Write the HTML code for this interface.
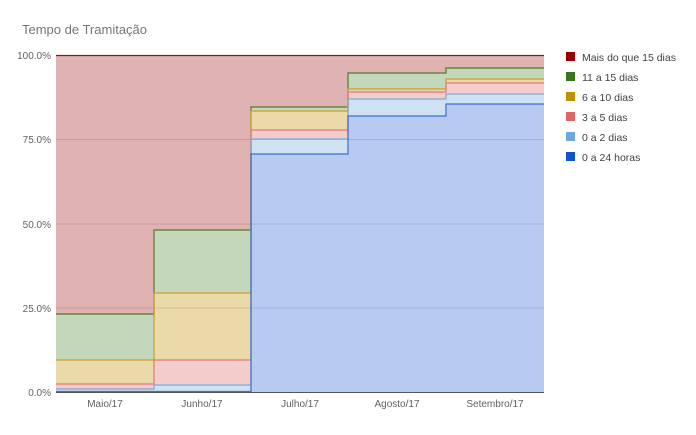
<!DOCTYPE html>
<html><head><meta charset="utf-8"><style>
body{margin:0;background:#fff;width:696px;height:430px;overflow:hidden;font-family:"Liberation Sans",Arial,sans-serif}
</style></head><body>
<svg width="696" height="430" xmlns="http://www.w3.org/2000/svg" font-family="Liberation Sans, Arial, sans-serif">
<text x="22" y="34" font-size="13" fill="#757575">Tempo de Tramitação</text>
<g font-size="10" fill="#616161" text-anchor="end">
<text x="51" y="59">100.0%</text><text x="51" y="143">75.0%</text><text x="51" y="228">50.0%</text><text x="51" y="312">25.0%</text><text x="51" y="396">0.0%</text>
</g>
<!-- red background -->
<rect x="56" y="55" width="488" height="337" fill="#e0b2b2"/>
<!-- columns: x, w, blue, lb, pink, yellow, green -->
<g id="c1">
<rect x="56" y="314" width="98" height="78" fill="#c5d7ba"/>
<rect x="56" y="360" width="98" height="32" fill="#ead9a9"/>
<rect x="56" y="384" width="98" height="8" fill="#f4cccc"/>
<rect x="56" y="389" width="98" height="3" fill="#cfe2f3"/>
<rect x="56" y="391" width="98" height="1" fill="#b7cbf0"/>
</g>
<g>
<rect x="154" y="230" width="97" height="162" fill="#c5d7ba"/>
<rect x="154" y="293" width="97" height="99" fill="#ead9a9"/>
<rect x="154" y="360" width="97" height="32" fill="#f4cccc"/>
<rect x="154" y="385" width="97" height="7" fill="#cfe2f3"/>
</g>
<g>
<rect x="251" y="107" width="97" height="285" fill="#c5d7ba"/>
<rect x="251" y="111" width="97" height="281" fill="#ead9a9"/>
<rect x="251" y="130" width="97" height="262" fill="#f4cccc"/>
<rect x="251" y="139" width="97" height="253" fill="#cfe2f3"/>
<rect x="251" y="154" width="97" height="238" fill="#b7caf0"/>
</g>
<g>
<rect x="348" y="73" width="98" height="319" fill="#c5d7ba"/>
<rect x="348" y="89" width="98" height="303" fill="#ead9a9"/>
<rect x="348" y="92" width="98" height="300" fill="#f4cccc"/>
<rect x="348" y="99" width="98" height="293" fill="#cfe2f3"/>
<rect x="348" y="116" width="98" height="276" fill="#b7caf0"/>
</g>
<g>
<rect x="446" y="68" width="98" height="324" fill="#c5d7ba"/>
<rect x="446" y="79" width="98" height="313" fill="#ead9a9"/>
<rect x="446" y="83" width="98" height="309" fill="#f4cccc"/>
<rect x="446" y="94" width="98" height="298" fill="#cfe2f3"/>
<rect x="446" y="104" width="98" height="288" fill="#b7caf0"/>
</g>
<!-- gridlines -->
<g stroke="#000" stroke-opacity="0.12" stroke-width="1">
<line x1="56" y1="139.5" x2="544" y2="139.5"/><line x1="56" y1="224" x2="544" y2="224"/><line x1="56" y1="308" x2="544" y2="308"/>
</g>
<!-- step lines -->
<g fill="none" stroke-width="1.2">
<polyline stroke="#8a1a1a" points="56,55.5 544,55.5"/>
<polyline stroke="#4f7a2c" points="56,314 154,314 154,230 251,230 251,107 348,107 348,73 446,73 446,68 544,68"/>
<polyline stroke="#c9a02a" points="56,360 154,360 154,293 251,293 251,111 348,111 348,89 446,89 446,79 544,79"/>
<polyline stroke="#e07a7a" points="56,384 154,384 154,360 251,360 251,130 348,130 348,92 446,92 446,83 544,83"/>
<polyline stroke="#7aaad8" points="56,389 154,389 154,385 251,385 251,139 348,139 348,99 446,99 446,94 544,94"/>
<polyline stroke="#3e6fc9" points="56,391.5 251,391.5 251,154 348,154 348,116 446,116 446,104 544,104"/>
</g>
<line x1="56" y1="392.5" x2="544" y2="392.5" stroke="#555" stroke-width="1"/>
<g font-size="10" fill="#616161" text-anchor="middle">
<text x="105" y="407">Maio/17</text><text x="202" y="407">Junho/17</text><text x="300" y="407">Julho/17</text><text x="397" y="407">Agosto/17</text><text x="495" y="407">Setembro/17</text>
</g>
<g font-size="10.5" fill="#424242">
<rect x="566" y="52" width="9" height="9" fill="#990000"/><text x="582" y="61">Mais do que 15 dias</text>
<rect x="566" y="72" width="9" height="9" fill="#38761d"/><text x="582" y="81">11 a 15 dias</text>
<rect x="566" y="92" width="9" height="9" fill="#bf9000"/><text x="582" y="101">6 a 10 dias</text>
<rect x="566" y="112" width="9" height="9" fill="#e06666"/><text x="582" y="121">3 a 5 dias</text>
<rect x="566" y="132" width="9" height="9" fill="#6fa8dc"/><text x="582" y="141">0 a 2 dias</text>
<rect x="566" y="152" width="9" height="9" fill="#1155cc"/><text x="582" y="161">0 a 24 horas</text>
</g>
</svg>
</body></html>
